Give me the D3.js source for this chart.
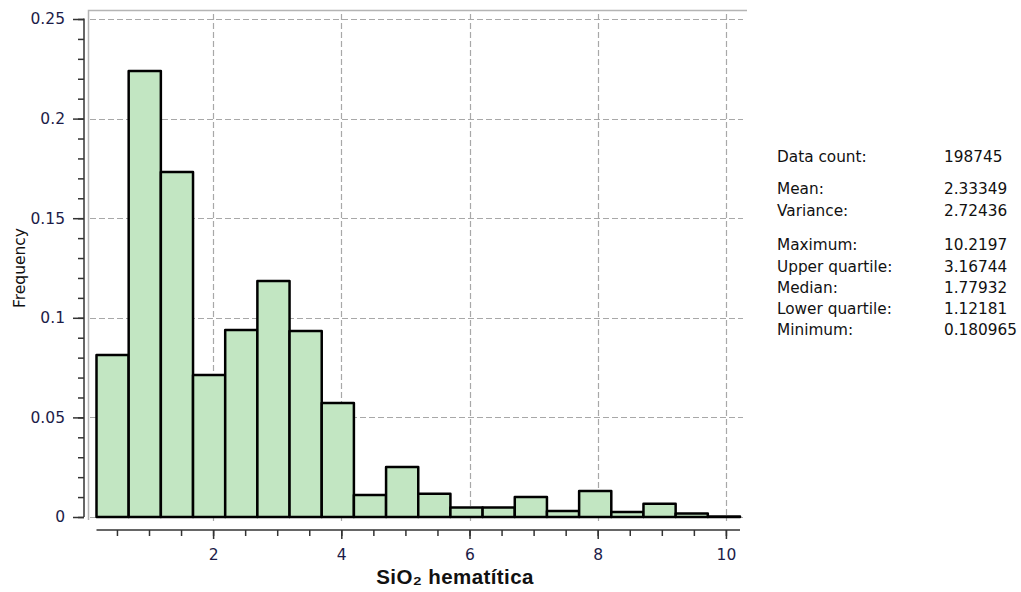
<!DOCTYPE html>
<html>
<head>
<meta charset="utf-8">
<script src="https://cdn.jsdelivr.net/npm/d3@7"></script>
<style>
    body { margin: 0; background: #fff; }
    text { font-family: "DejaVu Sans", sans-serif; }
</style>
</head>
<body>
<div id="chart"></div>
<script>
// histogram of SiO2 hematitica, 20 equal bins between min and max
var dataMin = 0.180965,
    dataMax = 10.2197;
var frequencies = [0.0813, 0.2239, 0.1732, 0.0713, 0.0939, 0.1185, 0.0934, 0.0572, 0.011, 0.0251,
    0.0117, 0.0048, 0.0048, 0.0100, 0.0030, 0.0130, 0.0025, 0.0066, 0.0018, 0.0003];
var yTicks = [0, 0.05, 0.1, 0.15, 0.2, 0.25];
var xTicks = [2, 4, 6, 8, 10];
var statLabels = ["Data count:", "Mean:", "Variance:", "Maximum:", "Upper quartile:", "Median:", "Lower quartile:", "Minimum:"];
var statValues = ["198745", "2.33349", "2.72436", "10.2197", "3.16744", "1.77932", "1.12181", "0.180965"];

var w = 1021, h = 592;

var svg = d3.select("#chart").append("svg")
    .attr("width", w)
    .attr("height", h);

var x = d3.scaleLinear().domain([dataMin, dataMax]).range([96.5, 740]);
var y = d3.scaleLinear().domain([0, 0.25]).range([517, 19]);

var binW = (dataMax - dataMin) / frequencies.length;
var bins = frequencies.map(function (f, i) {
    return {x0: dataMin + i * binW, x1: dataMin + (i + 1) * binW, f: f};
});

// frame (top + left)
svg.append("path")
    .attr("d", "M88.5,520V10.5H747")
    .attr("fill", "none")
    .attr("stroke", "#b4b4b4")
    .attr("stroke-width", 1.5);

// grid
svg.append("g").selectAll("line")
    .data(yTicks)
    .enter().append("line")
    .attr("x1", 90).attr("x2", 743)
    .attr("y1", function (d) { return Math.round(y(d)) + 0.5; })
    .attr("y2", function (d) { return Math.round(y(d)) + 0.5; })
    .attr("stroke", "#a8a8a8")
    .attr("stroke-width", 1.2)
    .attr("stroke-dasharray", "6,3");

svg.append("g").selectAll("line")
    .data(xTicks)
    .enter().append("line")
    .attr("x1", function (d) { return Math.round(x(d)) + 0.5; })
    .attr("x2", function (d) { return Math.round(x(d)) + 0.5; })
    .attr("y1", 14).attr("y2", 521)
    .attr("stroke", "#a8a8a8")
    .attr("stroke-width", 1.2)
    .attr("stroke-dasharray", "6,3");

// bars
svg.append("g").selectAll("rect")
    .data(bins)
    .enter().append("rect")
    .attr("x", function (d) { return x(d.x0); })
    .attr("y", function (d) { return y(d.f); })
    .attr("width", function (d) { return x(d.x1) - x(d.x0); })
    .attr("height", function (d) { return y(0) - y(d.f); })
    .attr("fill", "#c2e6c2")
    .attr("stroke", "#000")
    .attr("stroke-width", 2.5)
    .attr("stroke-linejoin", "round");

// y axis
var yAxis = d3.axisLeft(y)
    .tickValues(d3.range(0, 0.2501, 0.01))
    .tickSize(6)
    .tickFormat("");
svg.append("g")
    .attr("transform", "translate(84,0)")
    .call(yAxis)
    .call(function (g) {
        g.select(".domain").attr("d", "M0," + y(0) + "V" + (y(0.25) - 0.5)).attr("stroke", "#333").attr("stroke-width", 1.5);
        g.selectAll(".tick line").attr("stroke", "#333").attr("stroke-width", 1.5);
    });

svg.append("g")
    .attr("transform", "translate(84,0)")
    .call(d3.axisLeft(y).tickValues(yTicks).tickSize(11).tickPadding(8).tickFormat(d3.format("")))
    .call(function (g) {
        g.select(".domain").remove();
        g.selectAll(".tick line").attr("stroke", "#333").attr("stroke-width", 1.5);
        g.selectAll("text").attr("font-size", 15.5).attr("fill", "#1c1c48")
            .attr("font-family", "DejaVu Sans");
    });

// x axis
svg.append("g")
    .attr("transform", "translate(0,530)")
    .call(d3.axisBottom(x).tickValues(d3.range(0.5, 10.01, 0.5)).tickSize(6).tickFormat(""))
    .call(function (g) {
        g.select(".domain").attr("d", "M" + x(dataMin) + ",0H" + x(dataMax)).attr("stroke", "#333").attr("stroke-width", 1.5);
        g.selectAll(".tick line").attr("stroke", "#333").attr("stroke-width", 1.5);
    });

svg.append("g")
    .attr("transform", "translate(0,530)")
    .call(d3.axisBottom(x).tickValues(xTicks).tickSize(9).tickPadding(10).tickFormat(d3.format("")))
    .call(function (g) {
        g.select(".domain").remove();
        g.selectAll(".tick line").attr("stroke", "#333").attr("stroke-width", 1.5);
        g.selectAll("text").attr("font-size", 15.5).attr("fill", "#1c1c48")
            .attr("font-family", "DejaVu Sans");
    });

// axis titles
svg.append("text")
    .attr("x", 455)
    .attr("y", 584)
    .attr("text-anchor", "middle")
    .style("font-family", "'Liberation Sans', Arial, sans-serif")
    .style("font-weight", "bold")
    .style("font-size", "20.5px")
    .style("letter-spacing", "0.4px")
    .attr("fill", "#111")
    .text("SiO₂ hematítica");

svg.append("text")
    .attr("transform", "translate(25,268) rotate(-90)")
    .attr("text-anchor", "middle")
    .style("font-size", "15.5px")
    .attr("fill", "#111")
    .text("Frequency");

// stats panel
var rowY = [157, 189, 211, 245, 267, 288, 309, 330];
var stats = svg.append("g").attr("font-size", 15.3).attr("fill", "#111");
stats.selectAll(".lbl")
    .data(statLabels)
    .enter().append("text")
    .attr("class", "lbl")
    .attr("x", 777)
    .attr("y", function (d, i) { return rowY[i] + 5; })
    .text(function (d) { return d; });
stats.selectAll(".val")
    .data(statValues)
    .enter().append("text")
    .attr("class", "val")
    .attr("x", 944)
    .attr("y", function (d, i) { return rowY[i] + 5; })
    .text(function (d) { return d; });
</script>
</body>
</html>
